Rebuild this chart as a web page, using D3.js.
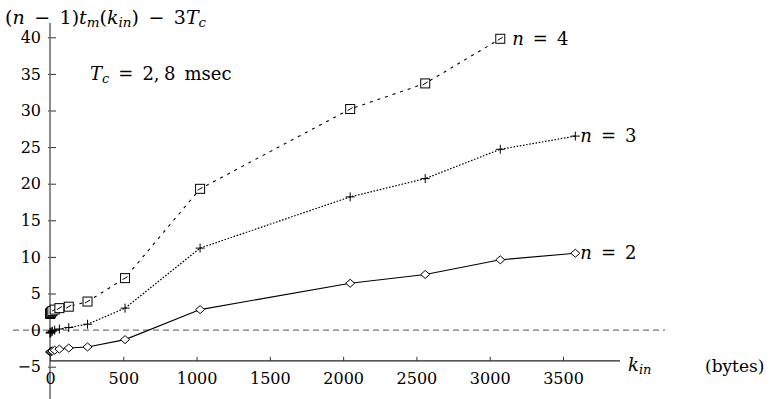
<!DOCTYPE html>
<html><head><meta charset="utf-8">
<script src="https://cdn.jsdelivr.net/npm/d3@7"></script>
<style>
html,body{margin:0;padding:0;background:#fff;}
text{font-family:"DejaVu Serif",serif;fill:#000;}
</style></head>
<body><svg id="c" width="773" height="399"></svg>
<script>
// ---- data ----
const kValues = [1, 2, 4, 8, 16, 32, 64, 128, 256, 512, 1024, 2048, 2560, 3072, 3584];
const kValues4 = [1, 2, 4, 8, 16, 32, 64, 128, 256, 512, 1024, 2048, 2560, 3072];
const seriesN2 = [-3.0, -3.0, -2.95, -2.9, -2.85, -2.75, -2.6, -2.45, -2.3, -1.3, 2.8, 6.4, 7.6, 9.6, 10.5];
const seriesN3 = [-0.4, -0.35, -0.3, -0.25, -0.15, 0.0, 0.15, 0.35, 0.8, 3.0, 11.2, 18.2, 20.7, 24.7, 26.5];
const seriesN4 = [2.2, 2.3, 2.35, 2.45, 2.6, 2.8, 3.0, 3.2, 3.9, 7.1, 19.3, 30.2, 33.7, 39.8];
const xTicks = [0, 500, 1000, 1500, 2000, 2500, 3000, 3500];
const yTicks = [-5, 0, 5, 10, 15, 20, 25, 30, 35, 40];
const seriesLabels = ["2", "3", "4"];

const svg = d3.select("#c");
const x = d3.scaleLinear().domain([0, 3500]).range([50, 563]);
const y = d3.scaleLinear().domain([-5, 40]).range([366.7, 37.3]);
const sp = "\u2002";

// zero reference line
svg.append("line")
  .attr("x1", 13).attr("x2", 665)
  .attr("y1", y(0)).attr("y2", y(0))
  .attr("stroke", "#777").attr("stroke-width", 1.2)
  .attr("stroke-dasharray", "6,4");

// y axis
const yAxis = svg.append("g").attr("transform", `translate(${x(0)},0)`)
  .call(d3.axisLeft(y).tickValues(yTicks).tickSize(0).tickPadding(9).tickFormat(d3.format("d")));
yAxis.select(".domain").remove();
yAxis.selectAll("text").attr("font-size", 16).attr("font-family", "DejaVu Serif");
yAxis.selectAll(".tick").append("line").attr("x1", -2).attr("x2", 6).attr("stroke", "#333").attr("stroke-width", 1);
svg.append("line").attr("x1", x(0)).attr("x2", x(0)).attr("y1", 23).attr("y2", 399)
  .attr("stroke", "#666").attr("stroke-width", 1.5);

// x axis
const xAxisY = y(-4.2);
const xAxis = svg.append("g").attr("transform", `translate(0,${xAxisY})`)
  .call(d3.axisBottom(x).tickValues(xTicks).tickSize(0).tickPadding(12).tickFormat(d3.format("d")));
xAxis.select(".domain").remove();
xAxis.selectAll("text").attr("font-size", 16).attr("font-family", "DejaVu Serif");
xAxis.selectAll(".tick").append("line").attr("y1", 0).attr("y2", -4).attr("stroke", "#333");
svg.append("line").attr("x1", x(0)).attr("x2", 620).attr("y1", xAxisY).attr("y2", xAxisY)
  .attr("stroke", "#222").attr("stroke-width", 1.2);

// lines
const line = d3.line().x(d => x(d[0])).y(d => y(d[1]));
const d2 = kValues.map((k, i) => [k, seriesN2[i]]);
const d3s = kValues.map((k, i) => [k, seriesN3[i]]);
const d4 = kValues4.map((k, i) => [k, seriesN4[i]]);

svg.append("path").attr("d", line(d2)).attr("fill", "none").attr("stroke", "#000").attr("stroke-width", 1.1);
svg.append("path").attr("d", line(d3s)).attr("fill", "none").attr("stroke", "#000").attr("stroke-width", 1.2).attr("stroke-dasharray", "1.6,1.6");
svg.append("path").attr("d", line(d4)).attr("fill", "none").attr("stroke", "#000").attr("stroke-width", 1.1).attr("stroke-dasharray", "3,5");

// markers
const g2 = svg.append("g");
d2.forEach(d => {
  const cx = x(d[0]), cy = y(d[1]);
  g2.append("path").attr("d", `M${cx-4.5},${cy}L${cx},${cy-4}L${cx+4.5},${cy}L${cx},${cy+4}Z`)
    .attr("fill", "#fff").attr("stroke", "#000").attr("stroke-width", 1);
});
const g3 = svg.append("g");
d3s.forEach(d => {
  const cx = x(d[0]), cy = y(d[1]);
  g3.append("path").attr("d", `M${cx-4.5},${cy}H${cx+4.5}M${cx},${cy-4.5}V${cy+4.5}`)
    .attr("stroke", "#000").attr("stroke-width", 1);
});
const g4 = svg.append("g");
d4.forEach(d => {
  const cx = x(d[0]), cy = y(d[1]);
  g4.append("rect").attr("x", cx-4.5).attr("y", cy-4.5).attr("width", 9).attr("height", 9)
    .attr("fill", "#fff").attr("stroke", "#000").attr("stroke-width", 1);
  g4.append("path").attr("d", `M${cx-2.5},${cy+1.5}L${cx+2.5},${cy-1.5}`).attr("stroke", "#000").attr("stroke-width", 1);
});

// series labels
function nLabel(px, py, val) {
  const t = svg.append("text").attr("x", px).attr("y", py).attr("font-size", 18);
  t.append("tspan").attr("font-style", "italic").text("n");
  t.append("tspan").text(sp + "=" + sp + val);
}
nLabel(x(3072) + 12, y(39.8) + 6, seriesLabels[2]);
nLabel(x(3584) + 5, y(26.5) + 6, seriesLabels[1]);
nLabel(x(3584) + 5, y(10.5) + 6, seriesLabels[0]);

// title
const tt = svg.append("text").attr("x", 5).attr("y", 24).attr("font-size", 19);
tt.append("tspan").text("(");
tt.append("tspan").attr("font-style", "italic").text("n");
tt.append("tspan").text(sp + "−" + sp + "1)");
tt.append("tspan").attr("font-style", "italic").text("t");
tt.append("tspan").attr("font-style", "italic").attr("font-size", 13.5).attr("dy", 3).text("m");
tt.append("tspan").attr("dy", -3).text("(");
tt.append("tspan").attr("font-style", "italic").text("k");
tt.append("tspan").attr("font-style", "italic").attr("font-size", 13.5).attr("dy", 3).text("in");
tt.append("tspan").attr("dy", -3).text(")" + sp + "−" + sp + "3");
tt.append("tspan").attr("font-style", "italic").text("T");
tt.append("tspan").attr("font-style", "italic").attr("font-size", 13.5).attr("dy", 3).text("c");

// Tc annotation
const tc = svg.append("text").attr("x", 90).attr("y", 80).attr("font-size", 18);
tc.append("tspan").attr("font-style", "italic").text("T");
tc.append("tspan").attr("font-style", "italic").attr("font-size", 13).attr("dy", 3).text("c");
tc.append("tspan").attr("dy", -3).text(sp + "=" + sp + "2," + "\u2005" + "8" + sp + "msec");

// x label
const kl = svg.append("text").attr("x", 628).attr("y", 371).attr("font-size", 18);
kl.append("tspan").attr("font-style", "italic").text("k");
kl.append("tspan").attr("font-style", "italic").attr("font-size", 13).attr("dy", 3).text("in");
svg.append("text").attr("x", 705).attr("y", 372).attr("font-size", 17).text("(bytes)");
</script></body></html>
